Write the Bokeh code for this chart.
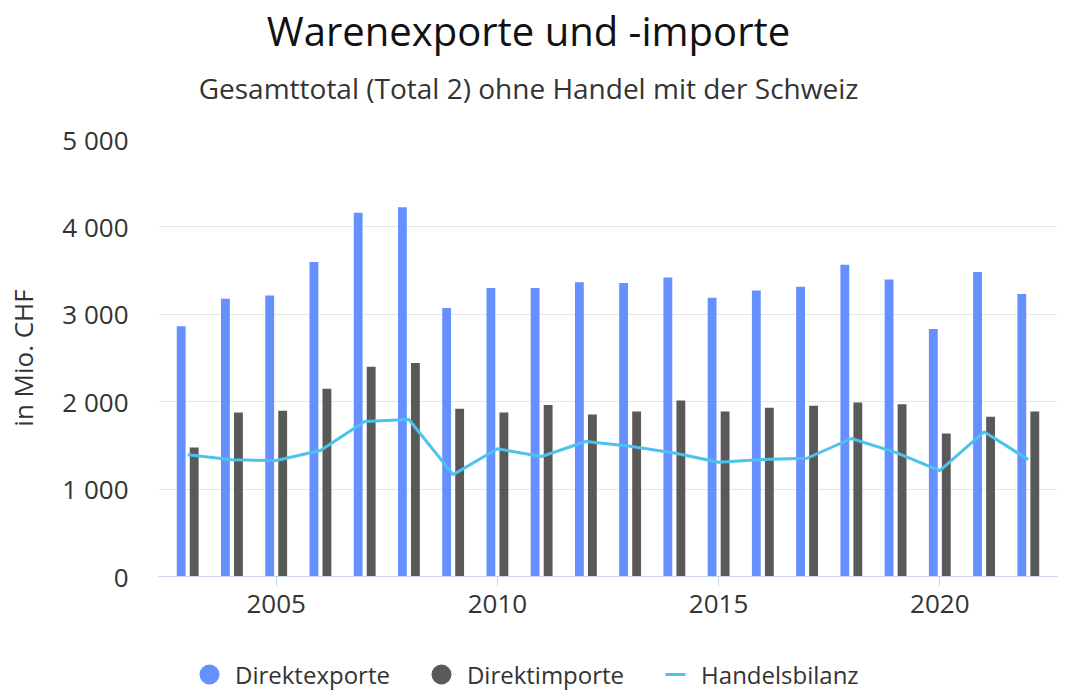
from bokeh.plotting import figure
from bokeh.layouts import column
from bokeh.models import (ColumnDataSource, FixedTicker, Legend, LegendItem, Range1d, Label)
from bokeh.transform import dodge
from bokeh.embed import file_html
from bokeh.resources import INLINE

# ---- data ----
years = list(range(2003, 2023))
exports = [2864, 3177, 3215, 3597, 4163, 4224, 3073, 3302, 3302, 3368,
           3357, 3421, 3188, 3272, 3314, 3567, 3398, 2833, 3483, 3231]
imports = [1476, 1877, 1897, 2149, 2401, 2443, 1919, 1877, 1961, 1854,
           1889, 2015, 1889, 1930, 1953, 1992, 1972, 1636, 1827, 1889]
balance = [1392, 1335, 1327, 1441, 1774, 1797, 1166, 1461, 1373, 1545,
           1490, 1414, 1307, 1338, 1353, 1579, 1420, 1212, 1655, 1338]
y_ticks = [0, 1000, 2000, 3000, 4000, 5000]
y_tick_labels = ["0", "1 000", "2 000", "3 000", "4 000", "5 000"]
x_ticks = [2005, 2010, 2015, 2020]
series_names = ["Direktexporte", "Direktimporte", "Handelsbilanz"]
title_text = "Warenexporte und -importe"
subtitle_text = "Gesamttotal (Total 2) ohne Handel mit der Schweiz"
y_label = "in Mio. CHF"

C_EXP = "#6690ff"
C_IMP = "#595959"
C_BAL = "#4cc2ec"
FONT = "Open Sans"
W = 1066
H_HEAD, H_MAIN, H_LEG = 120, 520, 50
FRAME_L, FRAME_R = 158, 1057   # frames of all three strips are aligned by the column


def bare(fig):
    fig.outline_line_color = None
    fig.grid.visible = False
    fig.background_fill_color = "white"
    fig.border_fill_color = "white"
    return fig


# ---- header (title + subtitle) ----
head = bare(figure(width=W, height=H_HEAD, output_backend="svg", toolbar_location=None,
                   title=None,
                   x_range=Range1d(FRAME_L, FRAME_R), y_range=Range1d(H_HEAD, 0),
                   x_axis_location=None, y_axis_location=None,
                   min_border=0))
head.add_layout(Label(x=528, y=30, text=title_text, text_font=FONT, text_font_size="40px",
                      text_color="#111111", text_align="center", text_baseline="alphabetic"))
head.add_layout(Label(x=528, y=87, text=subtitle_text, text_font=FONT, text_font_size="28px",
                      text_color="#333333", text_align="center", text_baseline="alphabetic"))

# ---- main chart ----
src = ColumnDataSource(dict(year=years, exp=exports, imp=imports, bal=balance))

p = figure(width=W, height=H_MAIN, output_backend="svg", toolbar_location=None,
           x_range=Range1d(2002.34, 2022.66), y_range=Range1d(0, 5000),
           min_border_left=158, min_border_right=9, min_border_top=19,
           min_border_bottom=64)
p.outline_line_color = None

p.vbar(x=dodge("year", -0.147), top="exp", width=0.2, source=src,
       fill_color=C_EXP, line_color=None)
p.vbar(x=dodge("year", 0.147), top="imp", width=0.2, source=src,
       fill_color=C_IMP, line_color=None)
p.line(x="year", y="bal", source=src, line_color=C_BAL, line_width=3)

p.xgrid.grid_line_color = None
p.ygrid.grid_line_color = "#e6e6e6"
p.ygrid.ticker = FixedTicker(ticks=y_ticks)

xa = p.xaxis[0]
xa.ticker = FixedTicker(ticks=x_ticks)
xa.axis_line_color = "#ccd6eb"
xa.major_tick_line_color = "#ccd6eb"
xa.major_tick_out = 10
xa.major_tick_in = 0
xa.minor_tick_line_color = None
xa.major_label_text_font = FONT
xa.major_label_text_font_size = "26px"
xa.major_label_text_color = "#333333"
xa.major_label_standoff = 8

ya = p.yaxis[0]
ya.ticker = FixedTicker(ticks=y_ticks)
ya.major_label_overrides = {t: l for t, l in zip(y_ticks, y_tick_labels)}
ya.axis_line_color = None
ya.major_tick_line_color = None
ya.minor_tick_line_color = None
ya.major_tick_out = 0
ya.major_tick_in = 0
ya.major_label_standoff = 30
ya.major_label_text_font = FONT
ya.major_label_text_font_size = "26px"
ya.major_label_text_color = "#333333"
ya.axis_label = y_label
ya.axis_label_text_font = FONT
ya.axis_label_text_font_size = "26px"
ya.axis_label_text_font_style = "normal"
ya.axis_label_text_color = "#333333"
ya.axis_label_standoff = 18

# ---- legend strip ----
# proxy renderers carry the series but lie outside this strip's ranges (clipped)
leg = bare(figure(width=W, height=H_LEG, output_backend="svg", toolbar_location=None,
                  title=None,
                  x_range=Range1d(FRAME_L, FRAME_R), y_range=Range1d(0, H_LEG),
                  x_axis_location=None, y_axis_location=None, min_border=0))
l_exp = leg.scatter(x="year", y="exp", source=src, marker="circle", size=20,
                    fill_color=C_EXP, line_color=None)
l_imp = leg.scatter(x="year", y="imp", source=src, marker="circle", size=20,
                    fill_color=C_IMP, line_color=None)
l_bal = leg.scatter(x="year", y="bal", source=src, marker="dash", size=20,
                    line_color=C_BAL, line_width=3)
legend = Legend(items=[LegendItem(label=series_names[0], renderers=[l_exp]),
                       LegendItem(label=series_names[1], renderers=[l_imp]),
                       LegendItem(label=series_names[2], renderers=[l_bal])],
                orientation="horizontal", location=(26, -9),
                glyph_width=50, glyph_height=50, label_standoff=1, spacing=26,
                padding=0, margin=0, border_line_color=None,
                background_fill_alpha=0,
                label_text_font=FONT, label_text_font_size="24px",
                label_text_color="#333333")
leg.add_layout(legend, "center")

layout = column(head, p, leg, spacing=0)
open("out.html", "w").write(file_html(layout, INLINE))
